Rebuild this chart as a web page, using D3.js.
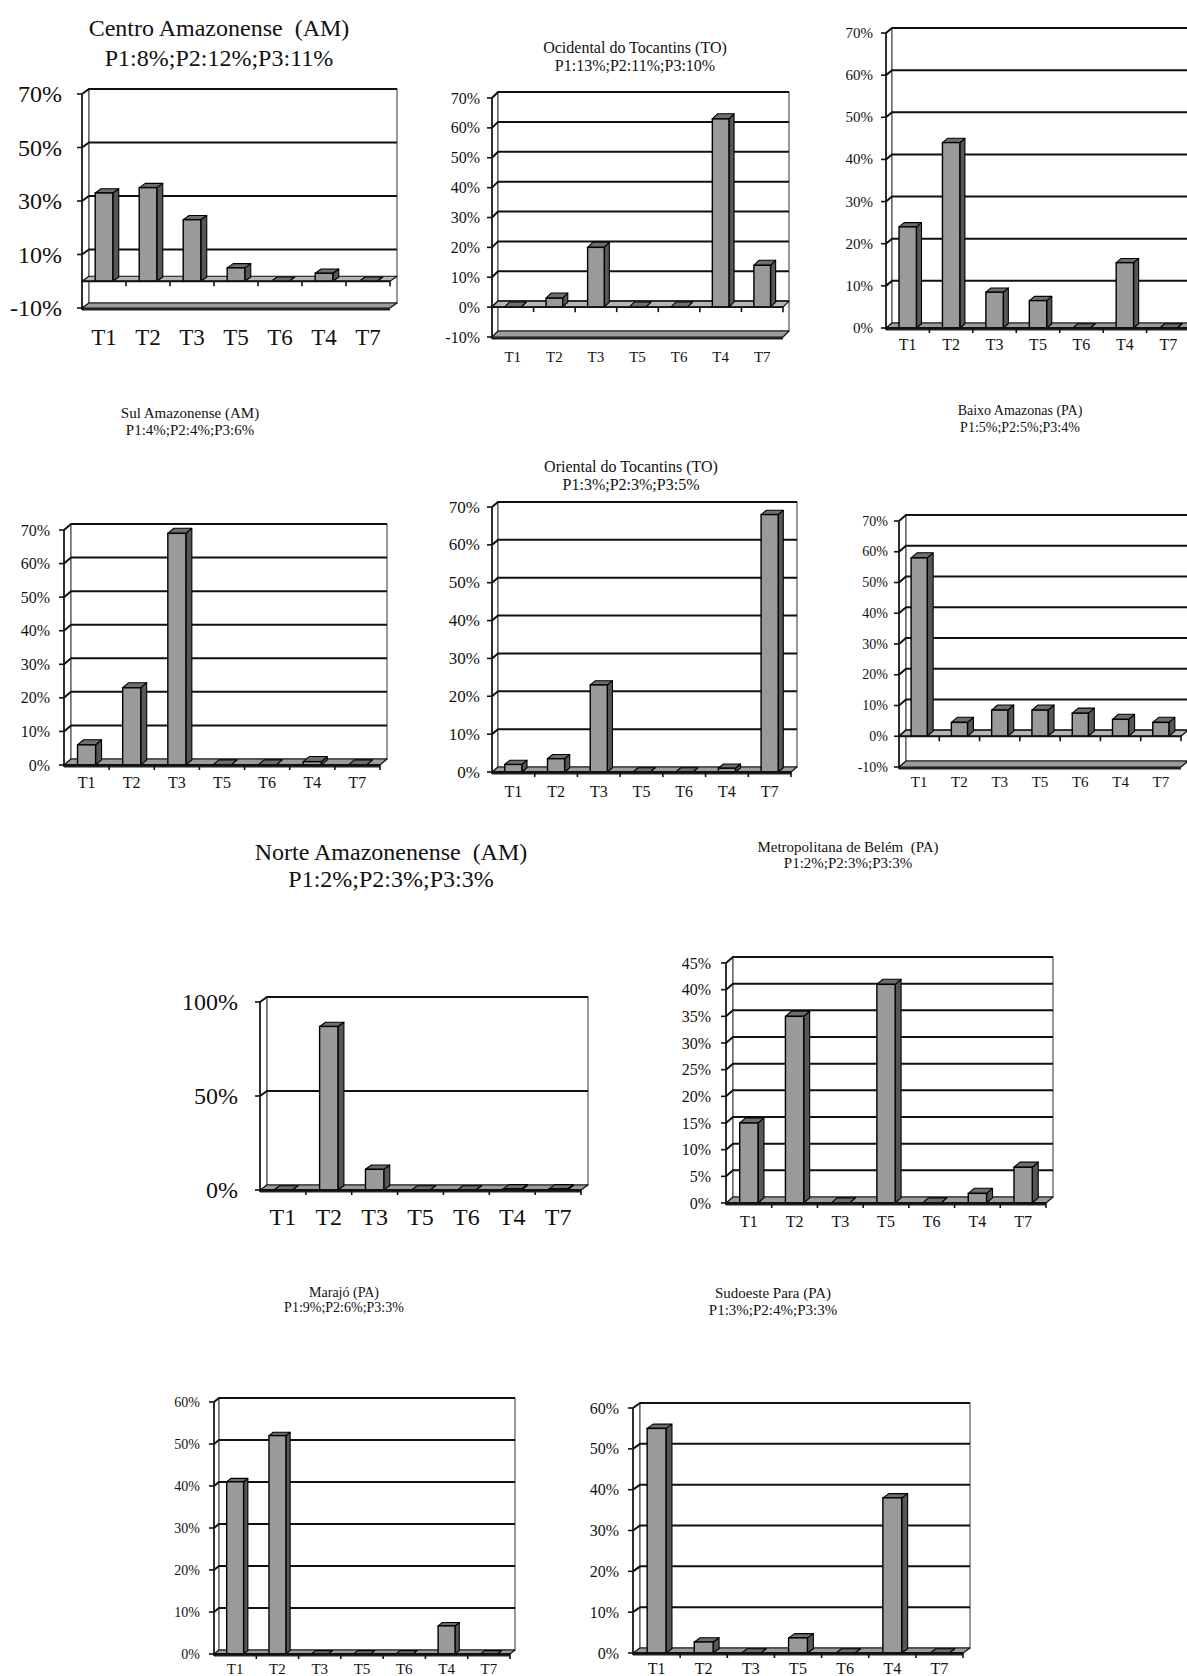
<!DOCTYPE html>
<html>
<head>
<meta charset="utf-8">
<script src="https://cdn.jsdelivr.net/npm/d3@7"></script>
<style>
  html, body { margin: 0; padding: 0; background: #fff; }
  svg { display: block; }
  text { font-family: "Liberation Serif", "Times New Roman", serif; fill: #111; white-space: pre; }
</style>
</head>
<body>
<svg id="chart" width="1187" height="1676"></svg>
<script>
// ---------- DATA ----------
const categories = ["T1", "T2", "T3", "T5", "T6", "T4", "T7"];

const centroAmazonense      = [33, 35, 23, 5, 0, 3, 0];
const ocidentalTocantins    = [0, 3, 20, 0, 0, 63, 14];
const topRightRegion        = [24, 44, 8.5, 6.5, 0, 15.5, 0];
const sulAmazonense         = [6, 23, 69, 0, 0, 1, 0];
const orientalTocantins     = [2, 3.5, 23, 0, 0, 1, 68];
const baixoAmazonas         = [58, 4.5, 8.5, 8.5, 7.5, 5.5, 4.5];
const norteAmazonense       = [0, 87, 11, 0, 0, 0.6, 0.6];
const metropolitanaBelem    = [15, 35, 0, 41, 0, 1.8, 6.7];
const marajo                = [41, 52, 0, 0, 0, 6.7, 0];
const sudoestePara          = [55, 2.7, 0, 3.7, 0, 38, 0];

const titlesCentro       = ["Centro Amazonense  (AM)", "P1:8%;P2:12%;P3:11%"];
const titlesOcidental    = ["Ocidental do Tocantins (TO)", "P1:13%;P2:11%;P3:10%"];
const titlesSul          = ["Sul Amazonense (AM)", "P1:4%;P2:4%;P3:6%"];
const titlesOriental     = ["Oriental do Tocantins (TO)", "P1:3%;P2:3%;P3:5%"];
const titlesBaixo        = ["Baixo Amazonas (PA)", "P1:5%;P2:5%;P3:4%"];
const titlesNorte        = ["Norte Amazonenense  (AM)", "P1:2%;P2:3%;P3:3%"];
const titlesMetropolitana= ["Metropolitana de Belém  (PA)", "P1:2%;P2:3%;P3:3%"];
const titlesMarajo       = ["Marajó (PA)", "P1:9%;P2:6%;P3:3%"];
const titlesSudoeste     = ["Sudoeste Para (PA)", "P1:3%;P2:4%;P3:3%"];

const ticksM10to70by20 = [-10, 10, 30, 50, 70];
const ticksM10to70by10 = [-10, 0, 10, 20, 30, 40, 50, 60, 70];
const ticks0to70       = [0, 10, 20, 30, 40, 50, 60, 70];
const ticks0to100      = [0, 50, 100];
const ticks0to45       = [0, 5, 10, 15, 20, 25, 30, 35, 40, 45];
const ticks0to60       = [0, 10, 20, 30, 40, 50, 60];

// ---------- LAYOUT (positions / sizes) ----------
const charts = [
  { values: centroAmazonense, titles: titlesCentro, ticks: ticksM10to70by20, domain: [-10, 70],
    x0: 82, x1: 390, yTop: 94, yBot: 308, dx: 7, dy: 5, labelRight: 62, tickSize: 24,
    xLabelY: 345, xLabelSize: 23, tX: 219, tY1: 36, tY2: 66, tSize: 24 },
  { values: ocidentalTocantins, titles: titlesOcidental, ticks: ticksM10to70by10, domain: [-10, 70],
    x0: 492, x1: 783, yTop: 98, yBot: 337, dx: 6, dy: 6, labelRight: 480, tickSize: 16,
    xLabelY: 362, xLabelSize: 15, tX: 635, tY1: 53, tY2: 71, tSize: 16 },
  { values: topRightRegion, titles: null, ticks: ticks0to70, domain: [0, 70],
    x0: 886, x1: 1190, yTop: 33, yBot: 328, dx: 6, dy: 5, labelRight: 873, tickSize: 15,
    xLabelY: 350, xLabelSize: 16 },
  { values: sulAmazonense, titles: titlesSul, ticks: ticks0to70, domain: [0, 70],
    x0: 64, x1: 380, yTop: 530, yBot: 765, dx: 7, dy: 6, labelRight: 50, tickSize: 16,
    xLabelY: 788, xLabelSize: 16, tX: 190, tY1: 418, tY2: 435, tSize: 15 },
  { values: orientalTocantins, titles: titlesOriental, ticks: ticks0to70, domain: [0, 70],
    x0: 492, x1: 791, yTop: 507, yBot: 772, dx: 6, dy: 5, labelRight: 480, tickSize: 17,
    xLabelY: 797, xLabelSize: 16, tX: 631, tY1: 472, tY2: 490, tSize: 16 },
  { values: baixoAmazonas, titles: titlesBaixo, ticks: ticksM10to70by10, domain: [-10, 70],
    x0: 899, x1: 1181, yTop: 521, yBot: 767, dx: 7, dy: 6, labelRight: 888, tickSize: 14,
    xLabelY: 787, xLabelSize: 15, tX: 1020, tY1: 415, tY2: 432, tSize: 14 },
  { values: norteAmazonense, titles: titlesNorte, ticks: ticks0to100, domain: [0, 100],
    x0: 260, x1: 581, yTop: 1002, yBot: 1190, dx: 7, dy: 5, labelRight: 238, tickSize: 24,
    xLabelY: 1225, xLabelSize: 24, tX: 391, tY1: 860, tY2: 887, tSize: 24 },
  { values: metropolitanaBelem, titles: titlesMetropolitana, ticks: ticks0to45, domain: [0, 45],
    x0: 726, x1: 1046, yTop: 963, yBot: 1203, dx: 7, dy: 6, labelRight: 711, tickSize: 16,
    xLabelY: 1227, xLabelSize: 16, tX: 848, tY1: 852, tY2: 868, tSize: 15 },
  { values: marajo, titles: titlesMarajo, ticks: ticks0to60, domain: [0, 60],
    x0: 214, x1: 510, yTop: 1402, yBot: 1654, dx: 5, dy: 4, labelRight: 200, tickSize: 14,
    xLabelY: 1674, xLabelSize: 15, tX: 344, tY1: 1297, tY2: 1312, tSize: 14 },
  { values: sudoestePara, titles: titlesSudoeste, ticks: ticks0to60, domain: [0, 60],
    x0: 633, x1: 963, yTop: 1408, yBot: 1653, dx: 7, dy: 5, labelRight: 619, tickSize: 16,
    xLabelY: 1674, xLabelSize: 16, tX: 773, tY1: 1298, tY2: 1315, tSize: 15 }
];

const COL_FRONT = "#9a9a9a", COL_SIDE = "#565656", COL_TOP = "#6e6e6e", COL_FLOOR = "#9c9c9c";

const svg = d3.select("#chart");

function poly(g, pts, fill, stroke, sw) {
  return g.append("polygon")
    .attr("points", pts.map(p => p.join(",")).join(" "))
    .attr("fill", fill).attr("stroke", stroke).attr("stroke-width", sw)
    .attr("stroke-linejoin", "round");
}

function drawChart(c) {
  const g = svg.append("g");
  const [dmin, dmax] = c.domain;
  const y = d3.scaleLinear().domain([dmin, dmax]).range([c.yBot, c.yTop]);
  const x = d3.scaleBand().domain(categories).range([c.x0, c.x1]).paddingInner(0).paddingOuter(0);
  const dx = c.dx, dy = c.dy;

  // side wall
  poly(g, [[c.x0, y(dmax)], [c.x0 + dx, y(dmax) - dy], [c.x0 + dx, y(dmin) - dy], [c.x0, y(dmin)]],
       "#fff", "#555", 1);
  // back wall
  g.append("rect")
    .attr("x", c.x0 + dx).attr("y", y(dmax) - dy)
    .attr("width", c.x1 - c.x0).attr("height", y(dmin) - y(dmax))
    .attr("fill", "#fff").attr("stroke", "#333").attr("stroke-width", 1);

  // gridlines
  c.ticks.filter(t => t > dmin).forEach(t => {
    g.append("polyline")
      .attr("points", [[c.x0, y(t)], [c.x0 + dx, y(t) - dy], [c.x1 + dx, y(t) - dy]].map(p => p.join(",")).join(" "))
      .attr("fill", "none").attr("stroke", "#111").attr("stroke-width", 2);
  });

  // floor slab at min
  poly(g, [[c.x0, y(dmin)], [c.x1, y(dmin)], [c.x1 + dx, y(dmin) - dy], [c.x0 + dx, y(dmin) - dy]],
       COL_FLOOR, "#111", 1.2);
  g.append("rect").attr("x", c.x0).attr("y", y(dmin)).attr("width", c.x1 - c.x0).attr("height", 2.5)
    .attr("fill", "#222");

  // zero plane if axis goes negative
  if (dmin < 0) {
    poly(g, [[c.x0, y(0)], [c.x1, y(0)], [c.x1 + dx, y(0) - dy], [c.x0 + dx, y(0) - dy]],
         "#b5b5b5", "#111", 1.2);
  }

  // bars
  const bw = x.bandwidth() * 0.4;
  const bdx = dx * 0.85, bdy = dy * 0.85;
  categories.forEach((cat, i) => {
    const v = c.values[i];
    const bx = x(cat) + (x.bandwidth() - bw) / 2;
    const yt = y(Math.max(v, 0)), yb = y(0);
    poly(g, [[bx + bw, yt], [bx + bw + bdx, yt - bdy], [bx + bw + bdx, yb - bdy], [bx + bw, yb]],
         COL_SIDE, "#000", 1.1);
    poly(g, [[bx, yt], [bx + bdx, yt - bdy], [bx + bw + bdx, yt - bdy], [bx + bw, yt]],
         COL_TOP, "#000", 1.1);
    if (yb - yt > 0.5) {
      g.append("rect").attr("x", bx).attr("y", yt).attr("width", bw).attr("height", yb - yt)
        .attr("fill", COL_FRONT).attr("stroke", "#000").attr("stroke-width", 1.4);
    }
  });

  // front vertical axis + ticks
  g.append("line").attr("x1", c.x0).attr("x2", c.x0).attr("y1", y(dmax)).attr("y2", y(dmin) + 2)
    .attr("stroke", "#111").attr("stroke-width", 1.6);
  c.ticks.forEach(t => {
    g.append("line").attr("x1", c.x0 - 5).attr("x2", c.x0).attr("y1", y(t)).attr("y2", y(t))
      .attr("stroke", "#111").attr("stroke-width", 1.6);
    g.append("text").attr("x", c.labelRight).attr("y", y(t))
      .attr("text-anchor", "end").attr("dominant-baseline", "central")
      .attr("font-size", c.tickSize).text(t + "%");
  });

  // category axis at 0
  g.append("line").attr("x1", c.x0).attr("x2", c.x1).attr("y1", y(0)).attr("y2", y(0))
    .attr("stroke", "#111").attr("stroke-width", 1.8);
  categories.forEach(cat => {
    const xe = x(cat) + x.bandwidth();
    g.append("line").attr("x1", xe).attr("x2", xe).attr("y1", y(0)).attr("y2", y(0) + 5)
      .attr("stroke", "#111").attr("stroke-width", 1.6);
    g.append("text").attr("x", x(cat) + x.bandwidth() / 2).attr("y", c.xLabelY)
      .attr("text-anchor", "middle").attr("font-size", c.xLabelSize).text(cat);
  });

  // title
  if (c.titles) {
    g.append("text").attr("x", c.tX).attr("y", c.tY1).attr("text-anchor", "middle")
      .attr("font-size", c.tSize).text(c.titles[0]);
    g.append("text").attr("x", c.tX).attr("y", c.tY2).attr("text-anchor", "middle")
      .attr("font-size", c.tSize).text(c.titles[1]);
  }
}

charts.forEach(drawChart);
</script>
</body>
</html>
